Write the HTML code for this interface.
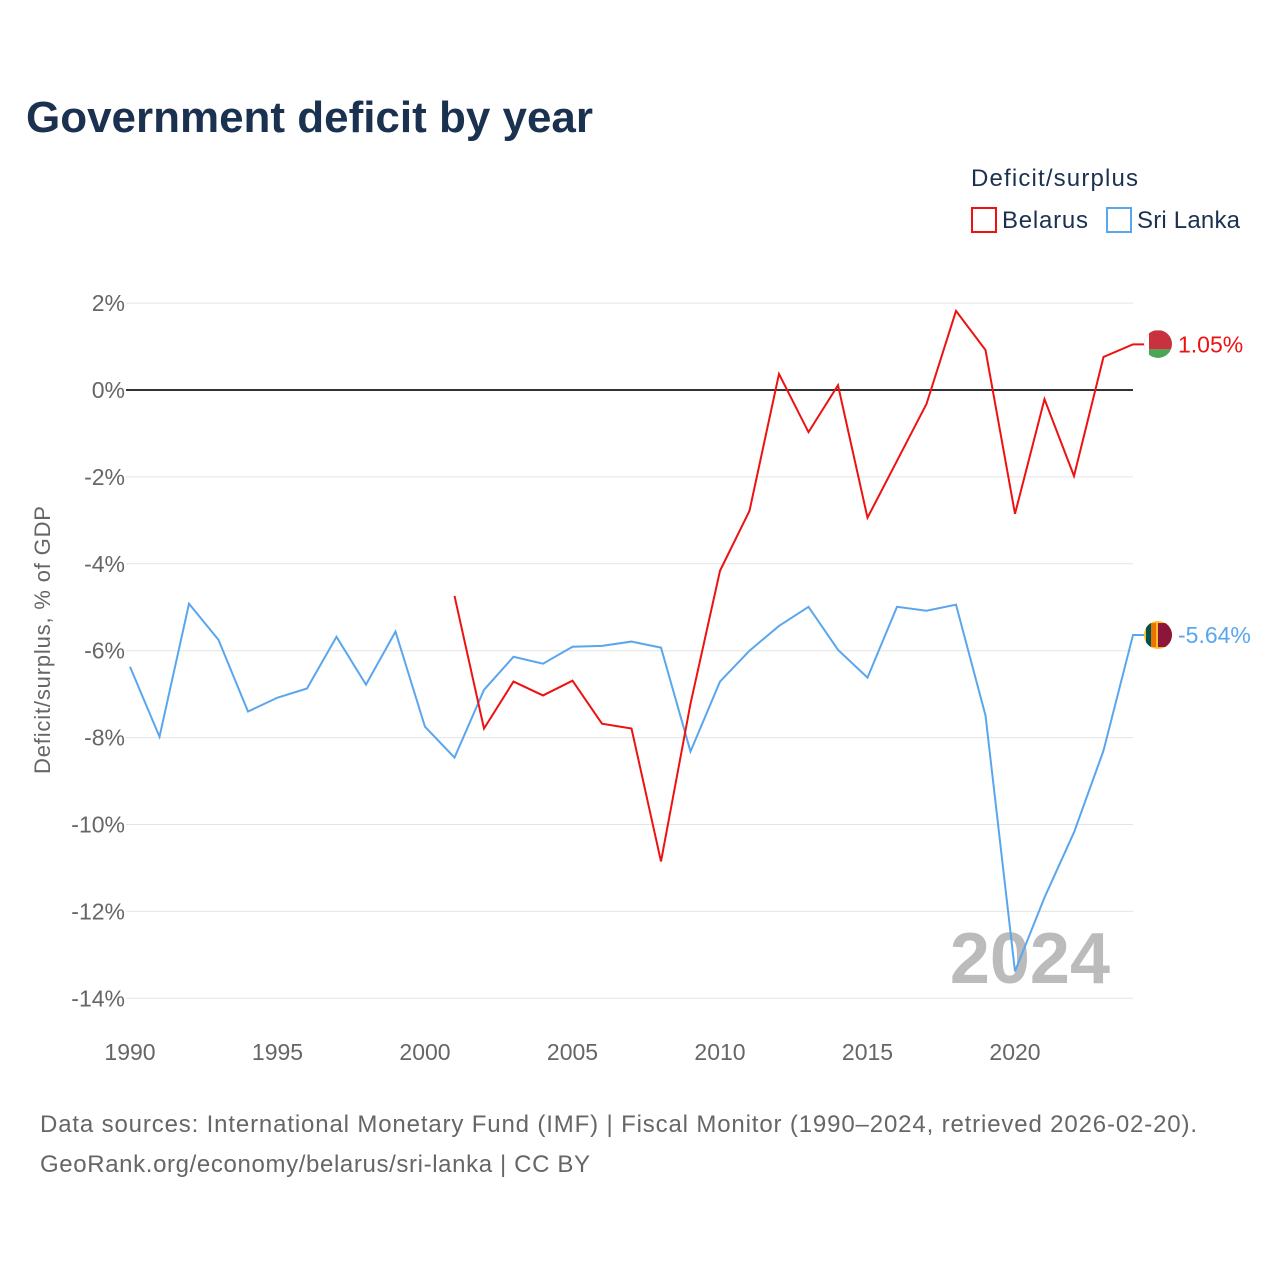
<!DOCTYPE html>
<html><head><meta charset="utf-8"><style>
body{margin:0;background:#fff;font-family:"Liberation Sans",sans-serif}
svg text{font-family:"Liberation Sans",sans-serif}
</style></head><body>
<svg id="c" width="1280" height="1280">
<defs>
<clipPath id="fb"><circle cx="1158" cy="344" r="14"/></clipPath>
<clipPath id="fs"><circle cx="1158" cy="635" r="14"/></clipPath>
</defs>
<text x="26" y="132" font-size="44" font-weight="bold" fill="#1b3150" textLength="567">Government deficit by year</text>
<text x="971" y="186" font-size="24" fill="#1b3150" textLength="167">Deficit/surplus</text>
<g><rect x="972" y="208" width="24" height="24" fill="none" stroke="#ee1111" stroke-width="2"/><text x="1002" y="228" font-size="24" fill="#1b3150" textLength="86">Belarus</text></g>
<g><rect x="1107" y="208" width="24" height="24" fill="none" stroke="#5aa6ee" stroke-width="2"/><text x="1137" y="228" font-size="24" fill="#1b3150" textLength="103">Sri Lanka</text></g>
<text transform="translate(50,640) rotate(-90)" text-anchor="middle" font-size="22" fill="#666" textLength="268">Deficit/surplus, % of GDP</text>
<text x="1110" y="983" text-anchor="end" font-size="72" font-weight="bold" fill="#bbb">2024</text>
<text x="40" y="1132" font-size="24" fill="#666" textLength="1157">Data sources: International Monetary Fund (IMF) | Fiscal Monitor (1990–2024, retrieved 2026-02-20).</text>
<text x="40" y="1172" font-size="24" fill="#666" textLength="550">GeoRank.org/economy/belarus/sri-lanka | CC BY</text>
</svg>
<script>
const years=[1990,1991,1992,1993,1994,1995,1996,1997,1998,1999,2000,2001,2002,2003,2004,2005,2006,2007,2008,2009,2010,2011,2012,2013,2014,2015,2016,2017,2018,2019,2020,2021,2022,2023,2024];
const sriLanka=[-6.37,-7.98,-4.92,-5.75,-7.40,-7.08,-6.87,-5.68,-6.78,-5.56,-7.75,-8.46,-6.90,-6.14,-6.30,-5.91,-5.89,-5.79,-5.93,-8.32,-6.71,-6.00,-5.43,-4.99,-5.98,-6.62,-4.99,-5.08,-4.94,-7.49,-13.38,-11.68,-10.18,-8.30,-5.64];
const belarus=[null,null,null,null,null,null,null,null,null,null,null,-4.74,-7.79,-6.71,-7.03,-6.69,-7.68,-7.79,-10.85,-7.22,-4.16,-2.78,0.37,-0.97,0.11,-2.94,-1.63,-0.32,1.82,0.92,-2.85,-0.21,-1.98,0.76,1.05];
const yTicks=[2,0,-2,-4,-6,-8,-10,-12,-14];
const xTicks=[1990,1995,2000,2005,2010,2015,2020];
const NS="http://www.w3.org/2000/svg",svg=document.getElementById('c');
const X=y=>130+(y-1990)*(1133-130)/34, Y=v=>390-v*43.45;
function mk(t,a,p){const e=document.createElementNS(NS,t);for(const k in a)e.setAttribute(k,a[k]);(p||svg).insertBefore(e,svg.children[1]);return e;}
yTicks.forEach(v=>{
 const l=mk('line',{x1:126,x2:1133,y1:Y(v),y2:Y(v),stroke:v===0?'#333':'#e4e4e4','stroke-width':v===0?2:1});
 
 
 const t=mk('text',{x:125,y:Y(v)+8,'text-anchor':'end','font-size':23,fill:'#666'});t.textContent=v+'%';
 
 
});
xTicks.forEach(y=>{
 const t=mk('text',{x:X(y),y:1060,'text-anchor':'middle','font-size':23,fill:'#666'});t.textContent=y;
 
 
});
function el(t,a){const e=document.createElementNS(NS,t);for(const k in a)e.setAttribute(k,a[k]);svg.appendChild(e);return e;}
function series(vals,col,name){
 let d='';vals.forEach((v,i)=>{if(v===null)return;d+=(d?'L':'M')+X(years[i])+','+Y(v);});
 const lv=vals[vals.length-1],lx=X(years[years.length-1]),cx=lx+25,cy=Y(lv);
 d+='L'+(cx-14)+','+cy;
 const p=el('path',{d:d,fill:'none',stroke:col,'stroke-width':2});
 
 
 const g=document.createElementNS(NS,'g');svg.appendChild(g);
 
 
 const add=(t,a)=>{const e=document.createElementNS(NS,t);for(const k in a)e.setAttribute(k,a[k]);g.appendChild(e);};
 if(name==='belarus'){
  g.setAttribute('clip-path','url(#fb)');
  add('rect',{x:cx-14,y:cy-14,width:28,height:19,fill:'#c8313e'});
  add('rect',{x:cx-14,y:cy+5,width:28,height:9,fill:'#4aa657'});
  add('rect',{x:cx-14,y:cy-14,width:5,height:28,fill:'#fff'});
 }else{
  g.setAttribute('clip-path','url(#fs)');
  add('rect',{x:cx-14,y:cy-14,width:28,height:28,fill:'#ffbe29'});
  add('rect',{x:cx-12,y:cy-12,width:5,height:24,fill:'#00534e'});
  add('rect',{x:cx-7,y:cy-12,width:5,height:24,fill:'#eb7400'});
  add('rect',{x:cx,y:cy-12,width:14,height:24,fill:'#8d153a'});
 }
 const t=el('text',{x:cx+20,y:cy+8,'font-size':23,fill:col});t.textContent=lv.toFixed(2)+'%';
 
 
}
series(sriLanka,'#5aa6ee','sri-lanka');
series(belarus,'#ee1111','belarus');
</script>
</body></html>
